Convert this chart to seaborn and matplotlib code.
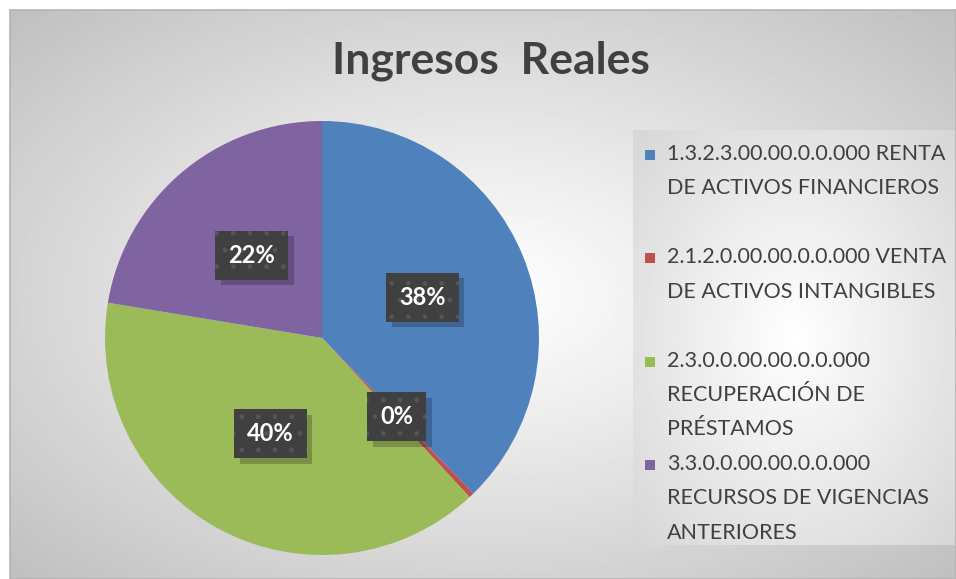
import numpy as np
import pandas as pd
import seaborn as sns
import matplotlib.pyplot as plt
import matplotlib.patches as mpatches
import matplotlib.patheffects as pe

sns.set_theme(style="white")
plt.rcParams['font.family'] = ['Lato', 'DejaVu Sans']

# datos
categorias = ['1.3.2.3.00.00.0.0.000 RENTA\nDE ACTIVOS FINANCIEROS',
              '2.1.2.0.00.00.0.0.000 VENTA\nDE ACTIVOS INTANGIBLES',
              '2.3.0.0.00.00.0.0.000\nRECUPERACIÓN DE\nPRÉSTAMOS',
              '3.3.0.0.00.00.0.0.000\nRECURSOS DE VIGENCIAS\nANTERIORES']
valores = [37.7, 0.4, 39.5, 22.4]
colores = ['#4F81BD', '#C0504D', '#9BBB59', '#8064A2']
titulo = 'Ingresos  Reales'

df = pd.DataFrame({'categoria': categorias, 'valor': valores})
paleta = sns.color_palette(colores)

W, H = 956, 579
fig = plt.figure(figsize=(W / 100, H / 100), dpi=100, facecolor='white')

# fondo con degradado radial
bg = fig.add_axes([10 / W, 0, (W - 10) / W, (H - 10) / H])
yy, xx = np.mgrid[-1:1:300j, -1:1:500j]
d = np.sqrt(xx ** 2 + yy ** 2) / np.sqrt(2)
bg.imshow(1 - 0.25 * d ** 1.1, cmap='gray', vmin=0, vmax=1, aspect='auto',
          extent=(0, 1, 0, 1))
bg.axis('off')
fig.patches.append(mpatches.Rectangle((10 / W, 0), (W - 10) / W, (H - 10) / H,
                                      transform=fig.transFigure, fill=False,
                                      edgecolor='#b4b4b4', linewidth=1.2))

# caja de la leyenda
lg = fig.add_axes([633 / W, (H - 545) / H, (955 - 633) / W, (545 - 130) / H])
yy, xx = np.mgrid[-1:1:200j, -1:1:200j]
d = np.sqrt(xx ** 2 + yy ** 2) / np.sqrt(2)
lg.imshow(1 - 0.16 * d, cmap='gray', vmin=0, vmax=1, aspect='auto',
          extent=(0, 1, 0, 1))
lg.axis('off')

# pastel
ax = fig.add_axes([105 / W, 24 / H, 434 / W, 434 / H])
wedges, texts, autotexts = ax.pie(df['valor'], colors=paleta, startangle=90,
                                  counterclock=False, autopct='%.0f%%',
                                  pctdistance=0.5,
                                  wedgeprops=dict(linewidth=0))
ax.set_xlim(-1, 1)
ax.set_ylim(-1, 1)
ax.axis('off')

for t in autotexts:
    t.set_color('white')
    t.set_fontsize(17)
    t.set_fontweight('bold')
    t.set_zorder(5)
    t.set_bbox(dict(boxstyle='square,pad=0.55', facecolor='#404040',
                    edgecolor='#555555', linewidth=0, hatch='.'))
    # sombra sin trama
    t.get_bbox_patch().set_path_effects([
        pe.PathPatchEffect(offset=(4, -4), facecolor='black', edgecolor='none',
                           alpha=0.22),
        pe.Normal()])

# titulo
fig.text(491 / W, 1 - 61 / H, titulo, ha='center', va='center',
         fontsize=32, fontweight='bold', color='#404040')

# leyenda
for i, (cat, col) in enumerate(zip(categorias, colores)):
    top = 148 + i * 103.3
    fig.patches.append(mpatches.Rectangle((645 / W, 1 - (top + 12) / H), 10 / W, 10 / H,
                                          transform=fig.transFigure,
                                          facecolor=col, edgecolor='none'))
    fig.text(667 / W, 1 - (top - 4) / H, cat, ha='left', va='top',
             fontsize=15.5, color='#404040', linespacing=1.9)

fig.savefig('out.png', dpi=100, facecolor='white')
